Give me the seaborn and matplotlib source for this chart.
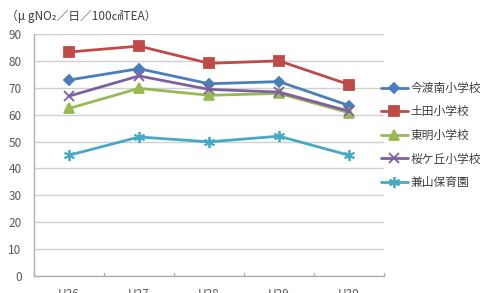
import matplotlib
matplotlib.use("Agg")
import matplotlib.pyplot as plt
import seaborn as sns
import pandas as pd

years = ["H26", "H27", "H28", "H29", "H30"]
series_names = ["今渡南小学校", "土田小学校", "東明小学校", "桜ケ丘小学校", "兼山保育園"]
imado = [72.9, 77.1, 71.5, 72.3, 63.4]
tsuchida = [83.3, 85.5, 79.1, 80.0, 71.2]
tomei = [62.3, 69.8, 67.2, 67.9, 60.7]
sakuragaoka = [66.9, 74.4, 69.4, 68.4, 61.3]
kaneyama = [44.9, 51.7, 49.9, 52.0, 44.9]
yticks = [0, 10, 20, 30, 40, 50, 60, 70, 80, 90]
unit_label = "（μ gNO₂／日／100㎠TEA）"

values = [imado, tsuchida, tomei, sakuragaoka, kaneyama]
colors = ["#4A7EBB", "#BE4B48", "#98B954", "#7D60A0", "#46AAC5"]
markers = ["D", "s", "^", "x", (6, 2, 0)]
msizes = [5, 7, 6.5, 7, 8]

sns.set_style("white")
plt.rcParams["font.family"] = ["Noto Sans CJK JP", "DejaVu Sans"]

fig = plt.figure(figsize=(4.82, 2.93), dpi=100)
ax = fig.add_axes([34 / 482, 17 / 293, 350 / 482, 242 / 293])

rows = []
for name, vals in zip(series_names, values):
    for i, v in enumerate(vals):
        rows.append({"year": i, "value": v, "site": name})
df = pd.DataFrame(rows)

for name, c, m, ms in zip(series_names, colors, markers, msizes):
    sub = df[df["site"] == name]
    sns.lineplot(data=sub, x="year", y="value", ax=ax, color=c, marker=m,
                 markersize=ms, markeredgecolor=c, markeredgewidth=1.3,
                 linewidth=2, label=name)

ax.set_xlim(-0.5, 4.5)
ax.set_ylim(0, 90)
ax.set_yticks(yticks)
ax.set_xticks(range(len(years)))
ax.set_xticklabels(years)
ax.set_xlabel("")
ax.set_ylabel("")
ax.grid(axis="y", color="#D0D0D0", linewidth=1)
ax.set_axisbelow(True)
for s in ["top", "right"]:
    ax.spines[s].set_visible(False)
for s in ["left", "bottom"]:
    ax.spines[s].set_color("#B0B0B0")
    ax.spines[s].set_linewidth(1)
ax.tick_params(axis="y", length=0, pad=9, labelsize=8.5, labelcolor="#595959")
ax.tick_params(axis="x", length=0, pad=9, labelsize=8.5, labelcolor="#595959")
for xt in [-0.5, 0.5, 1.5, 2.5, 3.5, 4.5]:
    ax.plot([xt, xt], [0, 1.2], color="#B0B0B0", linewidth=1, clip_on=False)

handles, labels = ax.get_legend_handles_labels()
if ax.legend_:
    ax.legend_.remove()
fig.legend(handles, labels, loc="upper left", bbox_to_anchor=(376 / 482, 1 - 77 / 293),
           frameon=False, fontsize=8.5, labelcolor="#404040", handlelength=2.3,
           handletextpad=0.25, labelspacing=0.9, borderaxespad=0)

fig.text(6 / 482, 1 - 16 / 293, unit_label, fontsize=8.5, color="#404040", va="center")

fig.savefig("out.png", dpi=100)
